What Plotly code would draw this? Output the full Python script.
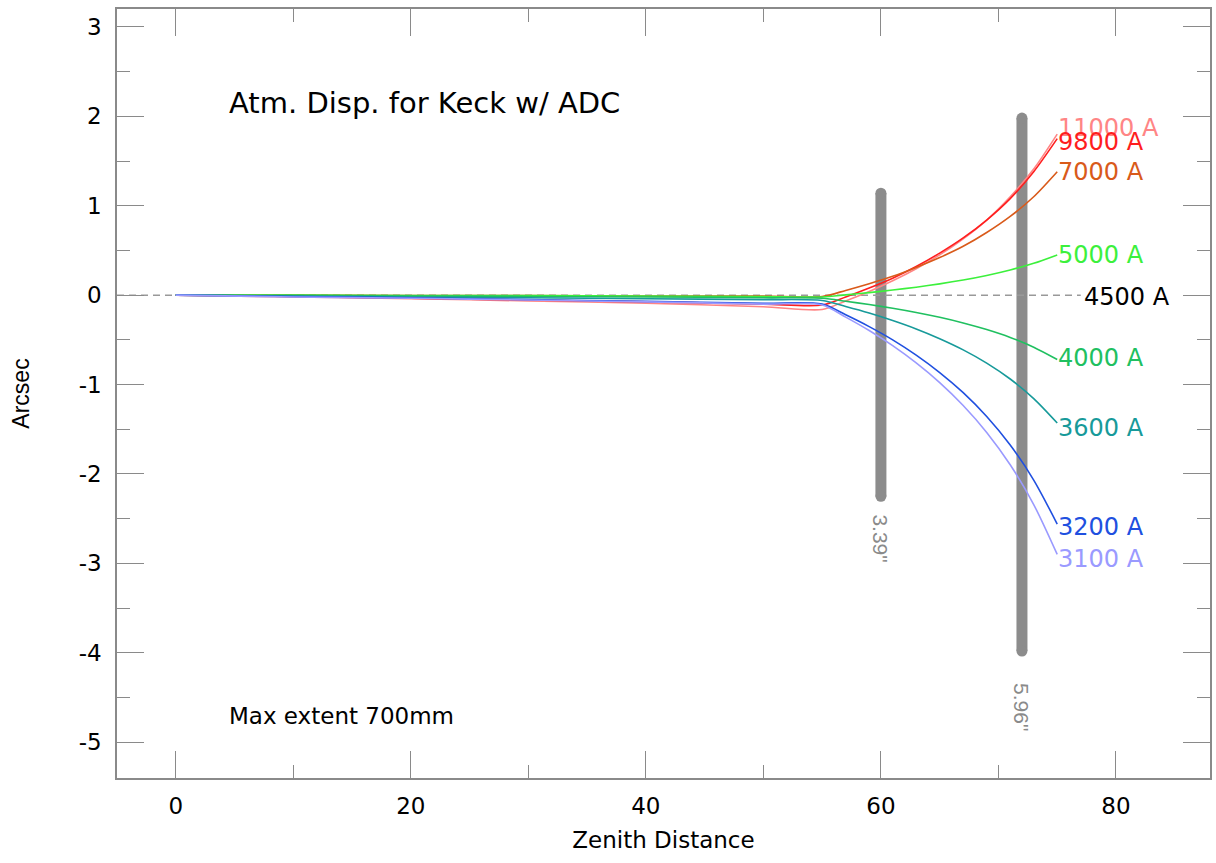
import plotly.graph_objects as go

# ---- data ----
zenith = [0, 10, 20, 30, 40, 50, 55, 57, 59, 61, 63, 65, 67, 69, 71, 73, 75]
wavelengths = ["11000 A", "9800 A", "7000 A", "5000 A", "4000 A", "3600 A", "3200 A", "3100 A"]
disp_11000 = [0, -0.02, -0.04, -0.065, -0.09, -0.13, -0.16, -0.065, 0.04, 0.16, 0.295, 0.45, 0.63, 0.84, 1.10, 1.41, 1.80]
disp_9800 = [0, -0.015, -0.035, -0.055, -0.075, -0.10, -0.11, -0.02, 0.08, 0.19, 0.32, 0.47, 0.64, 0.84, 1.08, 1.38, 1.75]
disp_7000 = [0, 0, -0.005, -0.005, -0.01, -0.01, -0.015, 0.053, 0.128, 0.21, 0.31, 0.42, 0.546, 0.70, 0.88, 1.10, 1.38]
disp_5000 = [0, 0, -0.005, -0.005, -0.01, -0.015, -0.02, 0.003, 0.028, 0.057, 0.089, 0.126, 0.169, 0.22, 0.281, 0.356, 0.45]
disp_4000 = [0, -0.005, -0.01, -0.015, -0.02, -0.03, -0.035, -0.068, -0.105, -0.147, -0.194, -0.248, -0.311, -0.385, -0.473, -0.582, -0.72]
disp_3600 = [0, -0.01, -0.02, -0.03, -0.04, -0.05, -0.06, -0.127, -0.20, -0.284, -0.378, -0.487, -0.612, -0.76, -0.938, -1.157, -1.43]
disp_3200 = [0, -0.015, -0.03, -0.05, -0.07, -0.09, -0.10, -0.22, -0.352, -0.50, -0.671, -0.866, -1.091, -1.357, -1.676, -2.068, -2.56]
disp_3100 = [0, -0.02, -0.035, -0.055, -0.075, -0.10, -0.11, -0.246, -0.396, -0.565, -0.758, -0.978, -1.234, -1.535, -1.897, -2.342, -2.90]

ref_label = "4500 A"
ref_x = [-5, 77]
ref_y = [0, 0]

bar_x = [60, 72]
bar_bottom = [-2.25, -3.98]
bar_top = [1.14, 1.98]
bar_labels = ['3.39"', '5.96"']

x_ticks = [0, 20, 40, 60, 80]
y_ticks = [-5, -4, -3, -2, -1, 0, 1, 2, 3]

series = [disp_11000, disp_9800, disp_7000, disp_5000, disp_4000, disp_3600, disp_3200, disp_3100]
colors = ["#ff8585", "#ff1e1e", "#d95a1a", "#3cf03c", "#20c060", "#179a9a", "#2050e0", "#9a9aff"]
label_shift = [6, -3, 0, 0, 2, -5, -3, -5]

FONT = "DejaVu Sans"
AXC = "#8a8a8a"

fig = go.Figure()

# gray extent bars
for bx, b0, b1 in zip(bar_x, bar_bottom, bar_top):
    fig.add_trace(go.Scatter(
        x=[bx, bx], y=[b0, b1], mode="lines+markers",
        line=dict(color="#8c8c8c", width=11),
        marker=dict(color="#8c8c8c", size=11, line=dict(width=0)),
        hoverinfo="skip", showlegend=False))

# reference (dashed) line
fig.add_trace(go.Scatter(x=ref_x, y=ref_y, mode="lines",
                         line=dict(color="#999999", width=1.5, dash="7px,5px"),
                         showlegend=False, hoverinfo="skip"))

for name, ys, c in zip(wavelengths, series, colors):
    fig.add_trace(go.Scatter(x=zenith, y=ys, mode="lines", name=name,
                             line=dict(color=c, width=1.6, shape="spline", smoothing=0.8),
                             showlegend=False))

annotations = []
for name, ys, c, sh in zip(wavelengths, series, colors, label_shift):
    annotations.append(dict(x=zenith[-1], y=ys[-1], xref="x", yref="y", text=name,
                            showarrow=False, xanchor="left", yanchor="middle",
                            yshift=sh, xshift=-1,
                            font=dict(family=FONT, size=24, color=c)))
annotations.append(dict(x=ref_x[-1], y=ref_y[-1], xref="x", yref="y", text=ref_label,
                        showarrow=False, xanchor="left", yanchor="middle", xshift=1, yshift=-2,
                        font=dict(family=FONT, size=24, color="black")))
for bx, b0, lab, sh in zip(bar_x, bar_bottom, bar_labels, [-42, -56]):
    annotations.append(dict(x=bx, y=b0, xref="x", yref="y", text=lab, textangle=90,
                            showarrow=False, xanchor="center", yanchor="middle", yshift=sh,
                            font=dict(family="Liberation Sans", size=21, color="#8a8a8a")))
annotations.append(dict(x=0.101, y=0.878, xref="paper", yref="paper",
                        text="Atm. Disp. for Keck w/ ADC", showarrow=False,
                        xanchor="left", yanchor="middle",
                        font=dict(family=FONT, size=29, color="black")))
annotations.append(dict(x=0.101, y=0.081, xref="paper", yref="paper",
                        text="Max extent 700mm", showarrow=False,
                        xanchor="left", yanchor="middle",
                        font=dict(family=FONT, size=23, color="black")))

axis_common = dict(showgrid=False, zeroline=False, showline=True, linecolor=AXC, linewidth=1.5,
                   mirror="ticks", ticks="inside", ticklen=27, tickwidth=1.3, tickcolor=AXC,
                   tickfont=dict(family=FONT, size=23, color="black"))

fig.update_layout(
    width=1216, height=863,
    margin=dict(l=117, r=4, t=9, b=85),
    paper_bgcolor="white", plot_bgcolor="white",
    annotations=annotations,
    xaxis=dict(range=[-5, 88], tickmode="array", tickvals=x_ticks,
               ticktext=[str(v) for v in x_ticks],
               minor=dict(ticks="inside", ticklen=13, dtick=10, tick0=0, tickcolor=AXC, tickwidth=1.3),
               ticklabelstandoff=7,
               title=dict(text="Zenith Distance", font=dict(family=FONT, size=23, color="black"),
                          standoff=14),
               **axis_common),
    yaxis=dict(range=[-5.4, 3.2], tickmode="array", tickvals=y_ticks,
               ticktext=[str(v) for v in y_ticks],
               minor=dict(ticks="inside", ticklen=13, dtick=0.5, tick0=0, tickcolor=AXC, tickwidth=1.3),
               ticklabelstandoff=9,
               title=dict(text="Arcsec", font=dict(family="Liberation Sans", size=23, color="black"),
                          standoff=43),
               **axis_common),
)

fig.write_html("out.html", config={"displayModeBar": False},
               post_script="document.body.style.margin='0px';document.body.style.overflow='hidden';")
